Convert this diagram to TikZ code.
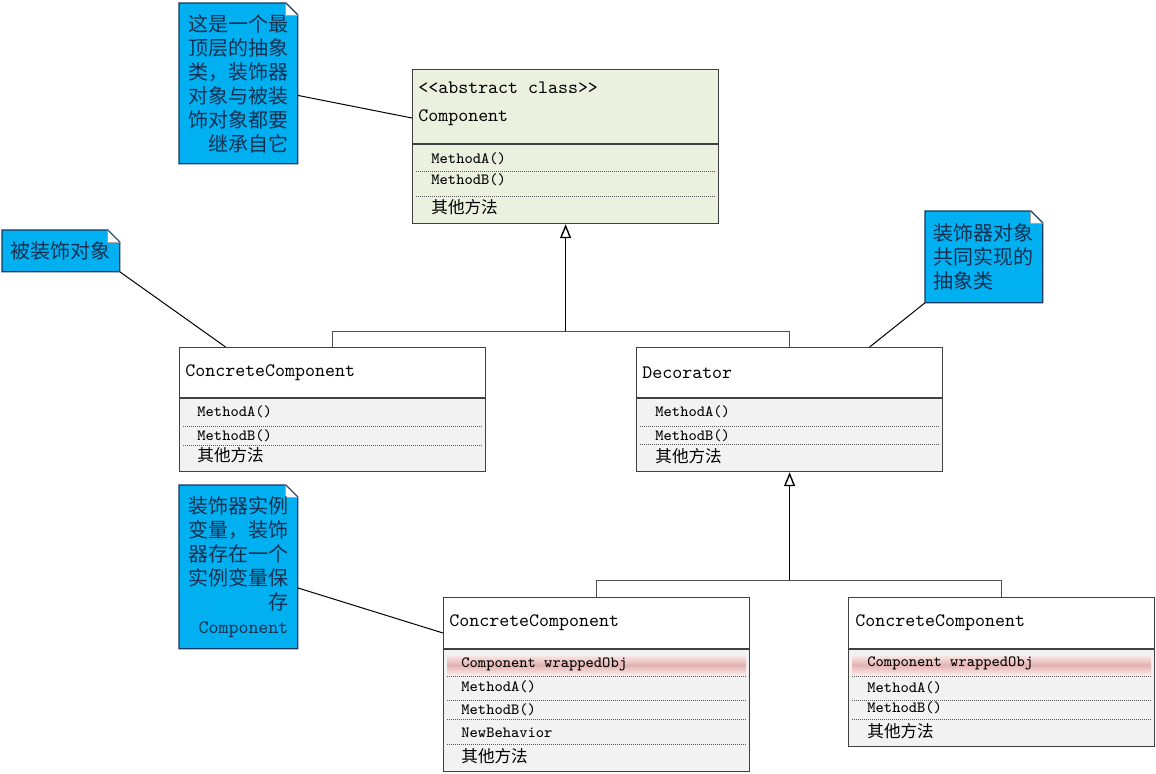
\documentclass[tikz,border=0pt]{standalone}
\usepackage{fontspec}
\newfontfamily\zh{Noto Sans CJK SC}
\usepackage{xcolor}
\definecolor{noteBlue}{HTML}{00B0F0}
\definecolor{noteLine}{HTML}{17375E}
\definecolor{noteText}{HTML}{142F50}
\definecolor{boxLine}{HTML}{404040}
\definecolor{busGray}{HTML}{505050}
\definecolor{dotGray}{HTML}{595959}
\definecolor{compGreen}{HTML}{EBF1DE}
\definecolor{methGray}{HTML}{F2F2F2}
\definecolor{pinkDark}{HTML}{E3B1B0}
\definecolor{pinkLight}{HTML}{F8E6E5}
\usetikzlibrary{arrows.meta, calc, backgrounds}

\begin{document}
\begin{tikzpicture}[
  x=0.5pt, y=-0.5pt,
  note/.style={rectangle, anchor=north west, inner sep=0pt, text=noteText,
               font=\zh\fontsize{10}{12}\selectfont, minimum width=59pt},
  notebox/.style={draw=noteLine, fill=noteBlue, line width=0.6pt},
  cls/.style={rectangle, draw=boxLine, line width=0.6pt, anchor=north west,
              minimum width=153pt, inner sep=0pt},
  clsname/.style={anchor=west, inner sep=0pt, font=\ttfamily\fontsize{9.5}{11}\selectfont},
  meth/.style={anchor=west, inner sep=0pt, font=\ttfamily\fontsize{7.8}{9}\selectfont},
  zhmeth/.style={anchor=west, inner sep=0pt, font=\zh\fontsize{8.3}{10}\selectfont},
  sepline/.style={draw=boxLine, line width=0.6pt},
  dotline/.style={draw=dotGray, line width=0.5pt, dash pattern=on 0.5pt off 0.5pt},
  link/.style={draw=black, line width=0.5pt},
  bus/.style={draw=busGray, line width=0.6pt},
  inherit/.style={-{Triangle[open, length=7pt, width=5.5pt]}, draw=black, line width=0.7pt},
  fold/.style={draw=noteLine, line width=0.5pt},
  flap/.style={draw=gray!70, line width=0.4pt}
]
\useasboundingbox (0,0) rectangle (1156,773);

% notes
\node[note, minimum height=80pt, align=right, text width=50pt] (n1) at (179,3)
  {这是一个最\\顶层的抽象\\类，装饰器\\对象与被装\\饰对象都要\\继承自它};
\node[note, minimum height=20.5pt, minimum width=58.5pt] (n2) at (2,230) {被装饰对象};
\node[note, minimum height=45.5pt, minimum width=58.5pt, align=left, text width=50pt] (n3) at (925,211)
  {装饰器对象\\共同实现的\\抽象类};
\node[note, minimum height=81.5pt, align=right, text width=50pt] (n4) at (179,485)
  {装饰器实例\\变量，装饰\\器存在一个\\实例变量保\\存\\{\ttfamily\fontsize{9.5}{12}\selectfont Component}};

% abstract component
\node[cls, minimum height=77pt] (comp) at (412,69) {};
\node[clsname] (compStereo) at ($(comp.north west)+(6,19)$) {<<abstract class>>};
\node[clsname] (compName) at ($(comp.north west)+(6,49)$) {Component};
\node[meth] (compA) at ($(comp.north west)+(19,90)$) {MethodA()};
\node[meth] (compB) at ($(comp.north west)+(19,111)$) {MethodB()};
\node[zhmeth] (compO) at ($(comp.north west)+(19,138)$) {其他方法};
\draw[sepline] ($(comp.north west)+(0,75)$) -- ($(comp.north east)+(0,75)$);
\foreach \dy in {102,127}
  \draw[dotline] ($(comp.north west)+(4,\dy)$) -- ($(comp.north east)+(-4,\dy)$);

% concrete component
\node[cls, minimum height=62pt] (cc1) at (179,347) {};
\node[clsname] (cc1Name) at ($(cc1.north west)+(6,26)$) {ConcreteComponent};
\node[meth] (cc1A) at ($(cc1.north west)+(18,65)$) {MethodA()};
\node[meth] (cc1B) at ($(cc1.north west)+(18,89)$) {MethodB()};
\node[zhmeth] (cc1O) at ($(cc1.north west)+(18,108)$) {其他方法};
\draw[sepline] ($(cc1.north west)+(0,51)$) -- ($(cc1.north east)+(0,51)$);
\foreach \dy in {79,98}
  \draw[dotline] ($(cc1.north west)+(4,\dy)$) -- ($(cc1.north east)+(-4,\dy)$);

% decorator
\node[cls, minimum height=62pt] (deco) at (636,347) {};
\node[clsname] (decoName) at ($(deco.north west)+(6,26)$) {Decorator};
\node[meth] (decoA) at ($(deco.north west)+(19,65)$) {MethodA()};
\node[meth] (decoB) at ($(deco.north west)+(19,89)$) {MethodB()};
\node[zhmeth] (decoO) at ($(deco.north west)+(19,109)$) {其他方法};
\draw[sepline] ($(deco.north west)+(0,51)$) -- ($(deco.north east)+(0,51)$);
\foreach \dy in {79,97}
  \draw[dotline] ($(deco.north west)+(4,\dy)$) -- ($(deco.north east)+(-4,\dy)$);

% concrete decorators
\node[cls, minimum height=87pt] (cc2) at (443,597) {};
\node[clsname] (cc2Name) at ($(cc2.north west)+(6,26)$) {ConcreteComponent};
\node[meth] (cc2W) at ($(cc2.north west)+(18,67)$) {Component wrappedObj};
\node[meth] (cc2A) at ($(cc2.north west)+(18,90)$) {MethodA()};
\node[meth] (cc2B) at ($(cc2.north west)+(18,113)$) {MethodB()};
\node[meth] (cc2N) at ($(cc2.north west)+(18,136)$) {NewBehavior};
\node[zhmeth] (cc2O) at ($(cc2.north west)+(18,159)$) {其他方法};
\draw[sepline] ($(cc2.north west)+(0,52)$) -- ($(cc2.north east)+(0,52)$);
\foreach \dy in {79,103,122,147}
  \draw[dotline] ($(cc2.north west)+(4,\dy)$) -- ($(cc2.north east)+(-4,\dy)$);

\node[cls, minimum height=74.5pt] (cc3) at (848,597) {};
\node[clsname] (cc3Name) at ($(cc3.north west)+(7,26)$) {ConcreteComponent};
\node[meth] (cc3W) at ($(cc3.north west)+(19,66)$) {Component wrappedObj};
\node[meth] (cc3A) at ($(cc3.north west)+(19,91)$) {MethodA()};
\node[meth] (cc3B) at ($(cc3.north west)+(19,111)$) {MethodB()};
\node[zhmeth] (cc3O) at ($(cc3.north west)+(19,134)$) {其他方法};
\draw[sepline] ($(cc3.north west)+(0,52)$) -- ($(cc3.north east)+(0,52)$);
\foreach \dy in {79,103,122}
  \draw[dotline] ($(cc3.north west)+(4,\dy)$) -- ($(cc3.north east)+(-4,\dy)$);

% fills behind
\begin{scope}[on background layer]
  \fill[compGreen] (comp.north west) rectangle (comp.south east);
  \foreach \b/\dy in {cc1/51,deco/51,cc2/52,cc3/52}
    \fill[methGray] ($(\b.north west)+(0,\dy)$) rectangle (\b.south east);
  \foreach \b in {cc2,cc3}
    \shade[top color=pinkLight, bottom color=pinkLight, middle color=pinkDark]
      ($(\b.north west)+(4,59)$) rectangle ($(\b.north east)+(-4,77)$);
  \foreach \n in {n1,n2,n3,n4} {
    \filldraw[notebox] (\n.north west) -- ([xshift=-6pt]\n.north east)
      -- ([yshift=-6pt]\n.north east) -- (\n.south east) -- (\n.south west) -- cycle;
    \fill[white] ([xshift=-6pt]\n.north east) -- ([xshift=-6pt,yshift=-6pt]\n.north east)
      -- ([yshift=-6pt]\n.north east) -- cycle;
    \draw[flap] ([xshift=-6pt]\n.north east) |- ([yshift=-6pt]\n.north east);
    \draw[fold] ([xshift=-6pt]\n.north east) -- ([yshift=-6pt]\n.north east);
  }
\end{scope}

% inheritance
\coordinate (bus1) at ($(comp.south)+(0,107)$);
\draw[bus] (cc1.north) |- (bus1) -| (deco.north);
\draw[inherit] (bus1) -- (comp.south);
\coordinate (bus2) at ($(deco.south)+(0,108)$);
\draw[bus] (cc2.north) |- (bus2) -| (cc3.north);
\draw[inherit] (bus2) -- (deco.south);

% note links
\draw[link] ([yshift=-6pt]n1.east) -- (comp.west |- compName.west);
\draw[link] (n2.south east) -- ([xshift=-53.5pt]cc1.north);
\draw[link] (n3.south west) -- ([xshift=40pt]deco.north);
\draw[link] ([yshift=-10.5pt]n4.east) -- ([yshift=-18pt]cc2.north west);
\end{tikzpicture}
\end{document}
